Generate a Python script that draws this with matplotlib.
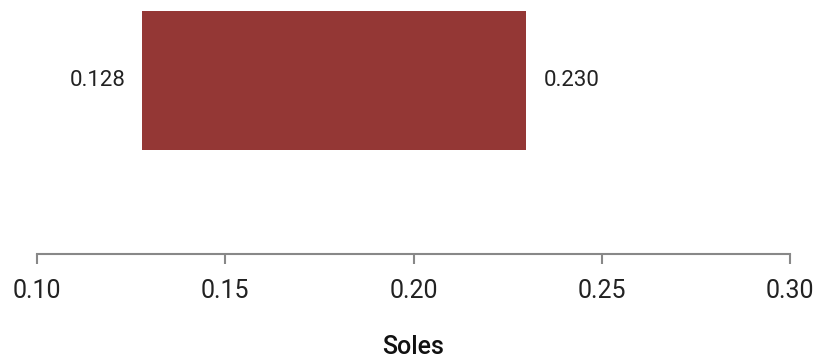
import matplotlib.pyplot as plt

plt.rcParams['font.family'] = ['Roboto', 'DejaVu Sans']

category = ['Soles']
low = [0.128]
high = [0.230]
xticks = [0.10, 0.15, 0.20, 0.25, 0.30]

fig = plt.figure(figsize=(8.16, 3.58), dpi=100)
ax = fig.add_axes([37 / 816, (358 - 254) / 358, (790 - 37) / 816, 254 / 358])

widths = [h - l for l, h in zip(low, high)]
ax.barh(range(len(category)), widths, left=low, height=0.8, color='#943735')

for i, (l, h) in enumerate(zip(low, high)):
    ax.text(l - 0.0045, i, f'{l:.3f}', ha='right', va='center', fontsize=16, color='#222222')
    ax.text(h + 0.0045, i, f'{h:.3f}', ha='left', va='center', fontsize=16, color='#222222')

ax.set_xlim(0.10, 0.30)
ax.set_ylim(-1.0, 0.463)
ax.set_xticks(xticks)
ax.set_xticklabels([f'{t:.2f}' for t in xticks])
ax.set_yticks([])
for s in ['top', 'right', 'left']:
    ax.spines[s].set_visible(False)
ax.spines['bottom'].set_color('#888888')
ax.spines['bottom'].set_linewidth(1.5)
ax.tick_params(axis='x', colors='#888888', length=7, width=1.5, labelsize=18,
               labelcolor='#222222', pad=11)
ax.set_xlabel(category[0], fontsize=18, fontweight='medium', color='#111111', labelpad=23)

fig.savefig('out.png', dpi=100)
